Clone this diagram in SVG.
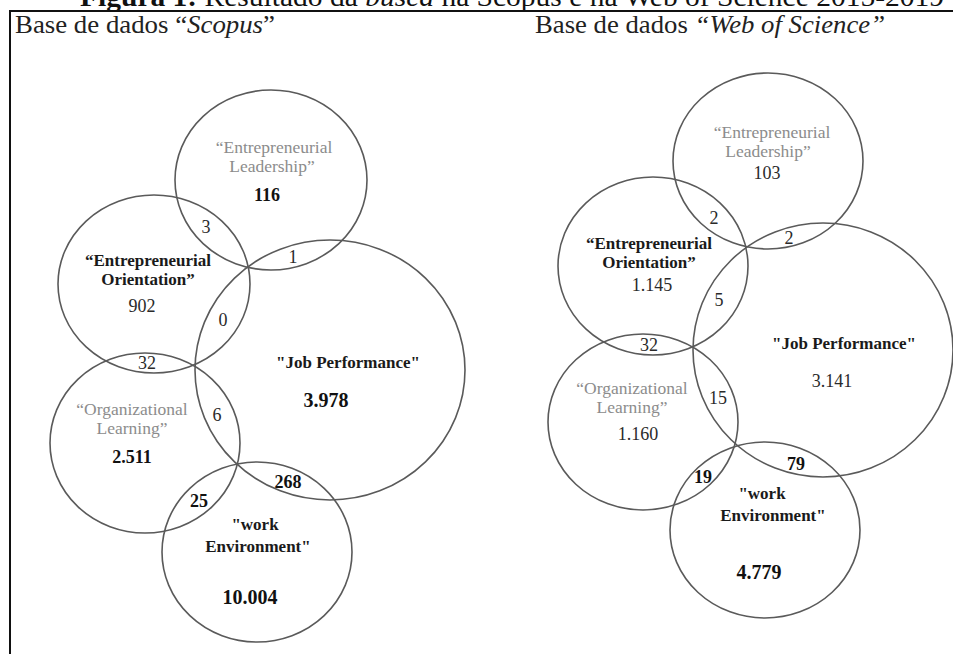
<svg xmlns="http://www.w3.org/2000/svg" width="953" height="654" viewBox="0 0 953 654">
<style>
text{font-family:"Liberation Serif","Times New Roman",serif;}
.c{fill:none;stroke:#5a5a5a;stroke-width:1.6;}
.g{fill:#8c8c8c;font-size:17.5px;text-anchor:middle;}
.b{fill:#1a1a1a;font-size:17px;font-weight:bold;text-anchor:middle;}
.n{fill:#2a2a2a;font-size:18px;text-anchor:middle;}
.nb{fill:#111;font-size:18px;font-weight:bold;text-anchor:middle;}
.big{fill:#111;font-size:20px;font-weight:bold;text-anchor:middle;}
.h{fill:#222;font-size:26px;}
</style>
<rect width="953" height="654" fill="#fff"/>
<text x="80" y="6" font-size="28" fill="#111" textLength="864" lengthAdjust="spacingAndGlyphs"><tspan font-weight="bold">Figura 1:</tspan> Resultado da <tspan font-style="italic">busca</tspan> na Scopus e na Web of Science 2015-2019</text>
<g id="frame">
<line x1="10" y1="11" x2="953" y2="11" stroke="#111" stroke-width="2"/>
<line x1="10" y1="10" x2="10" y2="654" stroke="#111" stroke-width="2"/>
</g>
<text class="h" x="15" y="33" textLength="260" lengthAdjust="spacingAndGlyphs">Base de dados “<tspan font-style="italic">Scopus</tspan>”</text>
<text class="h" x="535" y="33" textLength="350" lengthAdjust="spacingAndGlyphs">Base de dados  <tspan font-style="italic">“Web of Science”</tspan></text>

<g id="scopus-leadership">
<ellipse class="c" cx="271" cy="180" rx="96" ry="90"/>
<text class="g" x="274" y="153">“Entrepreneurial</text>
<text class="g" x="272" y="172">Leadership”</text>
<text class="nb" x="267" y="201">116</text>
</g>
<g id="scopus-orientation">
<ellipse class="c" cx="154" cy="284" rx="96" ry="89"/>
<text class="b" x="148" y="266">“Entrepreneurial</text>
<text class="b" x="148" y="285">Orientation”</text>
<text class="n" x="142" y="312">902</text>
</g>
<g id="scopus-job">
<ellipse class="c" cx="330" cy="370" rx="135" ry="130"/>
<text class="b" x="348" y="368">"Job Performance"</text>
<text class="big" x="326" y="407">3.978</text>
</g>
<g id="scopus-learning">
<ellipse class="c" cx="145" cy="443" rx="95" ry="90"/>
<text class="g" x="132" y="415">“Organizational</text>
<text class="g" x="132" y="434">Learning”</text>
<text class="nb" x="132" y="463" fill="#333">2.511</text>
</g>
<g id="scopus-work">
<ellipse class="c" cx="257" cy="552" rx="95" ry="90"/>
<text class="b" x="255" y="530">"work</text>
<text class="b" x="258" y="552">Environment"</text>
<text class="big" x="250" y="604">10.004</text>
</g>

<g id="wos-leadership">
<ellipse class="c" cx="768" cy="161" rx="95" ry="88"/>
<text class="g" x="772" y="138">“Entrepreneurial</text>
<text class="g" x="768" y="157">Leadership”</text>
<text class="n" x="767" y="179">103</text>
</g>
<g id="wos-orientation">
<ellipse class="c" cx="653" cy="266" rx="95" ry="89"/>
<text class="b" x="649" y="249">“Entrepreneurial</text>
<text class="b" x="649" y="268">Orientation”</text>
<text class="n" x="652" y="291">1.145</text>
</g>
<g id="wos-job">
<ellipse class="c" cx="823" cy="350" rx="130" ry="127"/>
<text class="b" x="844" y="349">"Job Performance"</text>
<text class="n" x="832" y="387">3.141</text>
</g>
<g id="wos-learning">
<ellipse class="c" cx="643" cy="422" rx="95" ry="88"/>
<text class="g" x="632" y="394">“Organizational</text>
<text class="g" x="632" y="413">Learning”</text>
<text class="n" x="638" y="440">1.160</text>
</g>
<g id="wos-work">
<ellipse class="c" cx="765" cy="530" rx="95" ry="88"/>
<text class="b" x="762" y="499">"work</text>
<text class="b" x="773" y="521">Environment"</text>
<text class="big" x="759" y="579">4.779</text>
</g>

<g id="intersections">
<text class="n" x="206" y="233">3</text>
<text class="n" x="293" y="263">1</text>
<text class="n" x="223" y="326">0</text>
<text class="n" x="147" y="369">32</text>
<text class="n" x="217" y="421">6</text>
<text class="nb" x="288" y="488">268</text>
<text class="nb" x="199" y="507">25</text>
<text class="n" x="714" y="224">2</text>
<text class="n" x="789" y="244">2</text>
<text class="n" x="719" y="306">5</text>
<text class="n" x="649" y="351">32</text>
<text class="n" x="718" y="404">15</text>
<text class="nb" x="796" y="470">79</text>
<text class="nb" x="703" y="483">19</text>
</g>
</svg>
